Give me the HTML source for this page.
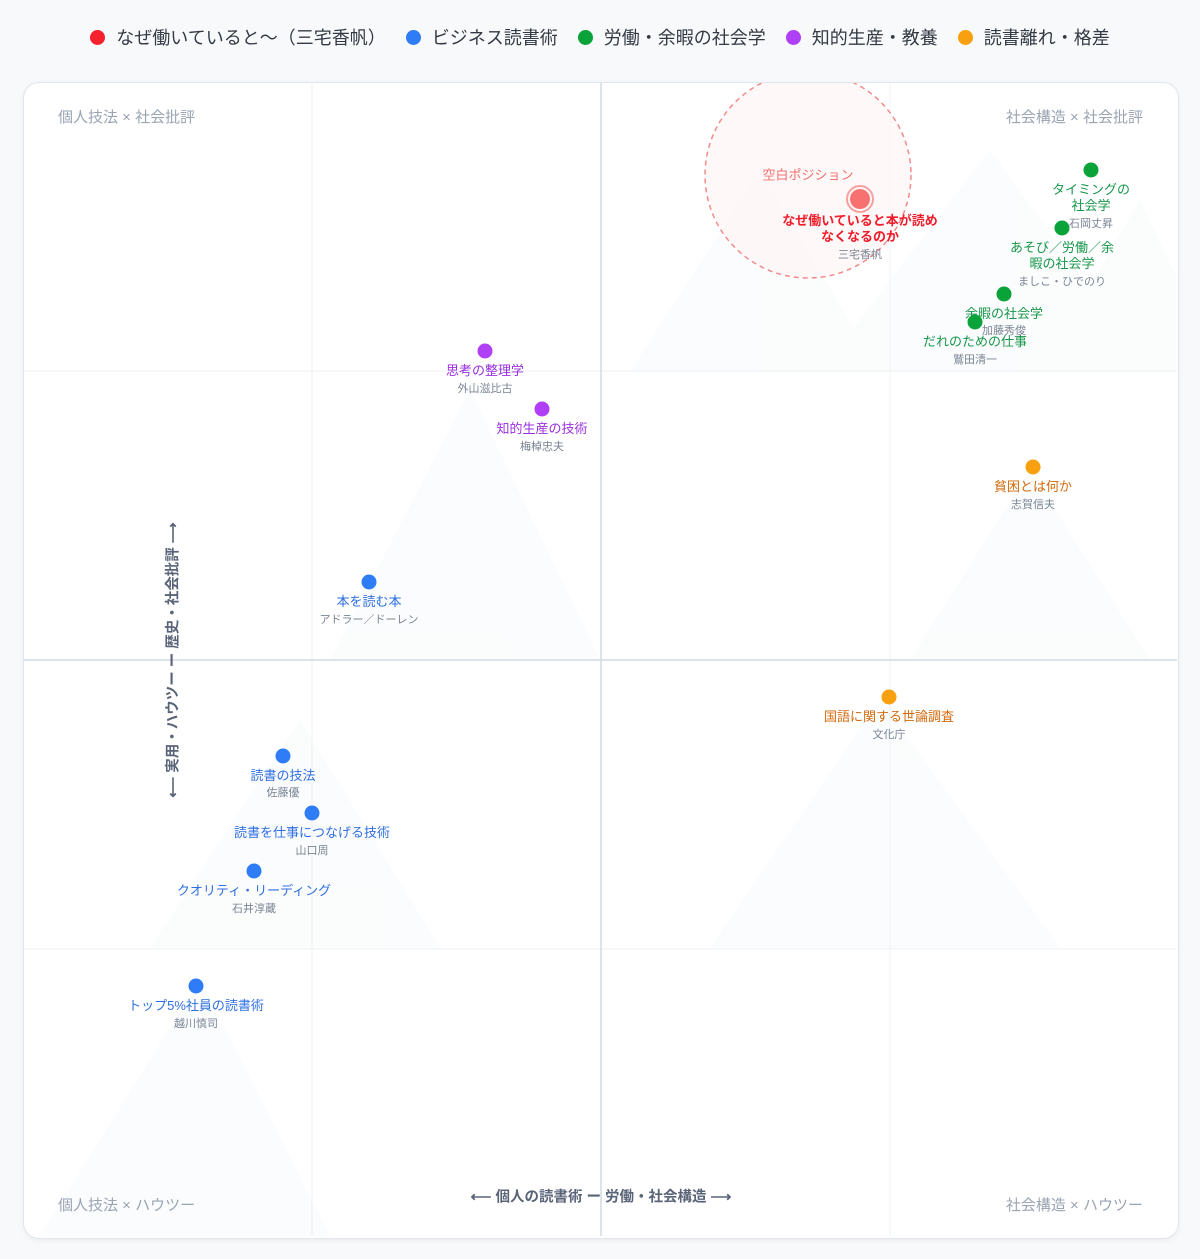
<!DOCTYPE html>
<html><head><meta charset="utf-8"><style>
body{margin:0;width:1200px;height:1259px;background:#f8f9fb;font-family:"Liberation Sans","Noto Sans CJK JP",sans-serif;position:relative;overflow:hidden}
.lg{position:absolute;top:24px;left:0;width:1200px;text-align:center;font-size:18px;color:#333a44;white-space:nowrap}
.lg span{display:inline-block;margin:0 10px}
.lg i{display:inline-block;width:15px;height:15px;border-radius:50%;vertical-align:-1px;margin-right:11px}
.card{position:absolute;left:23px;top:82px;width:1154px;height:1155px;background:#fff;border:1.5px solid #e1e6ee;border-radius:16px;box-shadow:0 2px 6px rgba(0,0,0,.05);overflow:hidden}
.a{position:absolute;white-space:nowrap;transform:translate(-50%,-50%);text-align:center}
.d{position:absolute;width:15px;height:15px;border-radius:50%;transform:translate(-50%,-50%)}
.t{font-size:13px;line-height:16px}
.au{font-size:11px;color:#7a8494}
.c{position:absolute;font-size:15px;color:#9aa4b2}
</style></head><body>
<div class="lg"><span><i style="background:#f5222d"></i>なぜ働いていると〜（三宅香帆）</span><span><i style="background:#2e7cf6"></i>ビジネス読書術</span><span><i style="background:#0aa33a"></i>労働・余暇の社会学</span><span><i style="background:#b040f5"></i>知的生産・教養</span><span><i style="background:#f8a010"></i>読書離れ・格差</span></div>
<div class="card"></div>
<svg style="position:absolute;left:0;top:0" width="1200" height="1259">
<defs><clipPath id="cp"><rect x="24" y="83" width="1153" height="1153" rx="15"/></clipPath></defs>
<g clip-path="url(#cp)">
<g fill="#f4f7f9" opacity="0.35">
<polygon points="630,372 760,170 880,372"/><polygon points="820,372 990,150 1150,372"/><polygon points="1040,372 1140,200 1178,280 1178,372"/>
<polygon points="330,660 470,390 600,660"/><polygon points="910,660 1030,470 1150,660"/>
<polygon points="150,948 300,720 440,948"/><polygon points="710,948 880,700 1060,948"/>
<polygon points="40,1236 200,980 330,1236"/>
</g>
<g stroke="#eef1f5" stroke-width="1"><line x1="312" y1="83" x2="312" y2="1237"/><line x1="890" y1="83" x2="890" y2="1237"/><line x1="24" y1="371" x2="1177" y2="371"/><line x1="24" y1="949" x2="1177" y2="949"/></g>
<g stroke="#d3dae4" stroke-width="1.5"><line x1="601" y1="83" x2="601" y2="1237"/><line x1="24" y1="660" x2="1177" y2="660"/></g>
<circle cx="808" cy="175" r="103" fill="#fff5f5" fill-opacity="0.7" stroke="#f28b8b" stroke-width="1.5" stroke-dasharray="5,4"/>
<circle cx="860" cy="199" r="13" fill="none" stroke="#f8a0a0" stroke-width="2"/>
<circle cx="860" cy="199" r="10" fill="#f87171"/>
</g>
</svg>
<div class="c" style="left:58px;top:106px">個人技法 × 社会批評</div>
<div class="c" style="right:57px;top:106px">社会構造 × 社会批評</div>
<div class="c" style="left:58px;top:1194px">個人技法 × ハウツー</div>
<div class="c" style="right:57px;top:1194px">社会構造 × ハウツー</div>
<div class="a" style="left:601px;top:1196px;font-size:14.5px;font-weight:bold;color:#5a6478">⟵ 個人の読書術 ー 労働・社会構造 ⟶</div>
<div class="a" style="left:172px;top:660px;font-size:14.5px;font-weight:bold;color:#5a6478;transform:translate(-50%,-50%) rotate(-90deg)">⟵ 実用・ハウツー ー 歴史・社会批評 ⟶</div>
<div class="a" style="left:808px;top:174px;font-size:13px;color:#f07070">空白ポジション</div>
<div class="a t" style="left:860px;top:229px;color:#ef1c2a;font-weight:bold">なぜ働いていると本が読め<br>なくなるのか</div>
<div class="a au" style="left:860px;top:254px">三宅香帆</div>

<div class="d" style="left:1091px;top:170px;background:#0aa33a"></div>
<div class="a t" style="left:1091px;top:198px;color:#15964a">タイミングの<br>社会学</div><div class="a au" style="left:1091px;top:223px">石岡丈昇</div>
<div class="d" style="left:1062px;top:228px;background:#0aa33a"></div>
<div class="a t" style="left:1062px;top:256px;color:#15964a">あそび／労働／余<br>暇の社会学</div><div class="a au" style="left:1062px;top:281px">ましこ・ひでのり</div>
<div class="d" style="left:1004px;top:294px;background:#0aa33a"></div>
<div class="a t" style="left:1004px;top:314px;color:#15964a">余暇の社会学</div><div class="a au" style="left:1004px;top:330px">加藤秀俊</div>
<div class="d" style="left:975px;top:322px;background:#0aa33a"></div>
<div class="a t" style="left:975px;top:342px;color:#15964a">だれのための仕事</div><div class="a au" style="left:975px;top:359px">鷲田清一</div>

<div class="d" style="left:485px;top:351px;background:#b040f5"></div>
<div class="a t" style="left:485px;top:371px;color:#9a2fe0">思考の整理学</div><div class="a au" style="left:485px;top:388px">外山滋比古</div>
<div class="d" style="left:542px;top:409px;background:#b040f5"></div>
<div class="a t" style="left:542px;top:429px;color:#9a2fe0">知的生産の技術</div><div class="a au" style="left:542px;top:446px">梅棹忠夫</div>

<div class="d" style="left:1033px;top:467px;background:#f8a010"></div>
<div class="a t" style="left:1033px;top:487px;color:#d2690a">貧困とは何か</div><div class="a au" style="left:1033px;top:504px">志賀信夫</div>
<div class="d" style="left:889px;top:697px;background:#f8a010"></div>
<div class="a t" style="left:889px;top:717px;color:#d2690a">国語に関する世論調査</div><div class="a au" style="left:889px;top:734px">文化庁</div>

<div class="d" style="left:369px;top:582px;background:#2e7cf6"></div>
<div class="a t" style="left:369px;top:602px;color:#2f6fe0">本を読む本</div><div class="a au" style="left:369px;top:619px">アドラー／ドーレン</div>
<div class="d" style="left:283px;top:756px;background:#2e7cf6"></div>
<div class="a t" style="left:283px;top:776px;color:#2f6fe0">読書の技法</div><div class="a au" style="left:283px;top:792px">佐藤優</div>
<div class="d" style="left:312px;top:813px;background:#2e7cf6"></div>
<div class="a t" style="left:312px;top:833px;color:#2f6fe0">読書を仕事につなげる技術</div><div class="a au" style="left:312px;top:850px">山口周</div>
<div class="d" style="left:254px;top:871px;background:#2e7cf6"></div>
<div class="a t" style="left:254px;top:891px;color:#2f6fe0">クオリティ・リーディング</div><div class="a au" style="left:254px;top:908px">石井淳蔵</div>
<div class="d" style="left:196px;top:986px;background:#2e7cf6"></div>
<div class="a t" style="left:196px;top:1006px;color:#2f6fe0">トップ5%社員の読書術</div><div class="a au" style="left:196px;top:1023px">越川慎司</div>
</body></html>
